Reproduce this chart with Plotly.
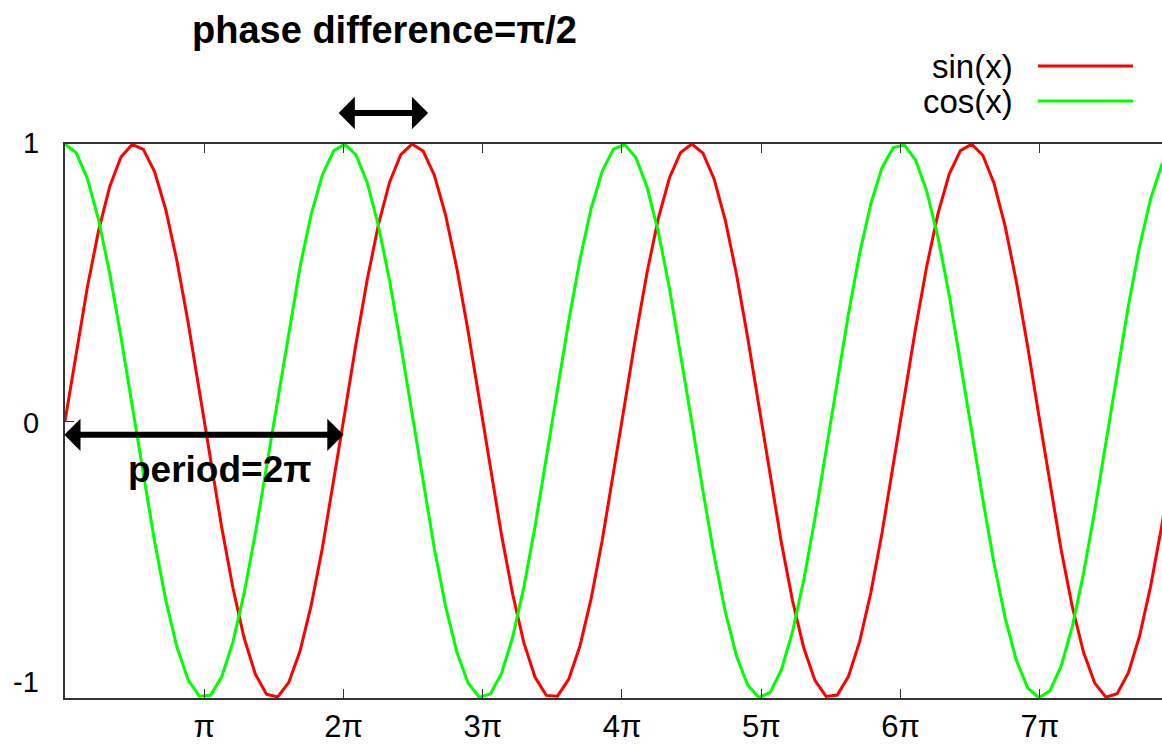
import numpy as np
import plotly.graph_objects as go

# ---- data ----
x_vals = np.linspace(0, 25, 100)          # gnuplot-style sampling (100 samples)
sin_vals = np.sin(x_vals)
cos_vals = np.cos(x_vals)
series_names = ["sin(x)", "cos(x)"]
series_colors = ["#ff0000", "#00ff00"]
x_tick_vals = [np.pi * k for k in range(1, 8)]
x_tick_text = ["π", "2π", "3π", "4π", "5π", "6π", "7π"]
y_tick_vals = [-1, 0, 1]
y_tick_text = ["-1", "0", "1"]
x_max = 24.75

FONT = "Liberation Sans, Arial, sans-serif"
L, R_PX, T, B = 65, 1162, 144, 698

def px2paper_x(px):
    return (px - L) / (R_PX - L)
def px2paper_y(py):
    return (B - py) / (B - T)

px_per_unit = (R_PX - L) / x_max

fig = go.Figure()
for yv, name, col in zip([sin_vals, cos_vals], series_names, series_colors):
    fig.add_trace(go.Scatter(x=x_vals, y=yv, mode="lines", name=name,
                             line=dict(color=col, width=3), showlegend=False))

fig.update_layout(
    width=1162, height=744,
    margin=dict(l=L, r=1162 - R_PX, t=T, b=744 - B, autoexpand=False),
    paper_bgcolor="white", plot_bgcolor="white",
    font=dict(family=FONT, size=26, color="black"),
    xaxis=dict(range=[0, x_max], tickvals=x_tick_vals, ticktext=x_tick_text,
               ticks="inside", ticklen=9, tickcolor="#333", tickwidth=1,
               showline=True, linecolor="#333", linewidth=2, mirror="allticks",
               showgrid=False, zeroline=False, tickfont=dict(size=31),
               ticklabelstandoff=0, automargin=False),
    yaxis=dict(range=[-1, 1], tickvals=y_tick_vals,
               ticks="inside", ticklen=9, tickcolor="#333",
               showline=True, linecolor="#333", linewidth=2, mirror=False,
               showgrid=False, zeroline=False, showticklabels=False,
               automargin=False),
)

# y tick labels (gnuplot places -1 slightly above the bottom border)
y_label_shift = [16, -2, 1]
for v, t, s in zip(y_tick_vals, y_tick_text, y_label_shift):
    fig.add_annotation(x=px2paper_x(41), y=v, xref="paper", yref="y", text=t,
                       showarrow=False, xanchor="right", yanchor="middle", yshift=s,
                       font=dict(size=29, family=FONT))

# legend (gnuplot style: text left, sample right)
for i, (name, col) in enumerate(zip(series_names, series_colors)):
    py = 66 + 35 * i
    fig.add_annotation(x=px2paper_x(1015), y=px2paper_y(py), xref="paper", yref="paper",
                       text=name, showarrow=False, xanchor="right", yanchor="middle",
                       font=dict(size=33, family=FONT))
    fig.add_shape(type="line", xref="paper", yref="paper",
                  x0=px2paper_x(1038), x1=px2paper_x(1133),
                  y0=px2paper_y(py), y1=px2paper_y(py),
                  line=dict(color=col, width=3))

# title text
fig.add_annotation(x=px2paper_x(384), y=px2paper_y(30), xref="paper", yref="paper",
                   text="<b>phase difference=π/2</b>", showarrow=False,
                   xanchor="center", yanchor="middle", font=dict(size=38, family=FONT))

ARROW = dict(showarrow=True, arrowhead=1, arrowside="end+start", arrowwidth=6,
             arrowsize=0.9, arrowcolor="black", standoff=0, startstandoff=0, text="")

# phase-difference arrow (above the plot area -> paper y, pixel offset in x)
fig.add_annotation(x=2.5 * np.pi + 15 / px_per_unit, y=px2paper_y(113), xref="x", yref="paper",
                   ax=-91, ay=0, axref="pixel", ayref="pixel", **ARROW)

# period arrow
fig.add_annotation(x=2 * np.pi, y=-0.05, ax=-0.05, ay=-0.05,
                   xref="x", yref="y", axref="x", ayref="y", **ARROW)
fig.add_annotation(x=px2paper_x(220), y=px2paper_y(470), xref="paper", yref="paper",
                   text="<b>period=2π</b>", showarrow=False,
                   xanchor="center", yanchor="middle", font=dict(size=37, family=FONT))

fig.write_html("out.html")
